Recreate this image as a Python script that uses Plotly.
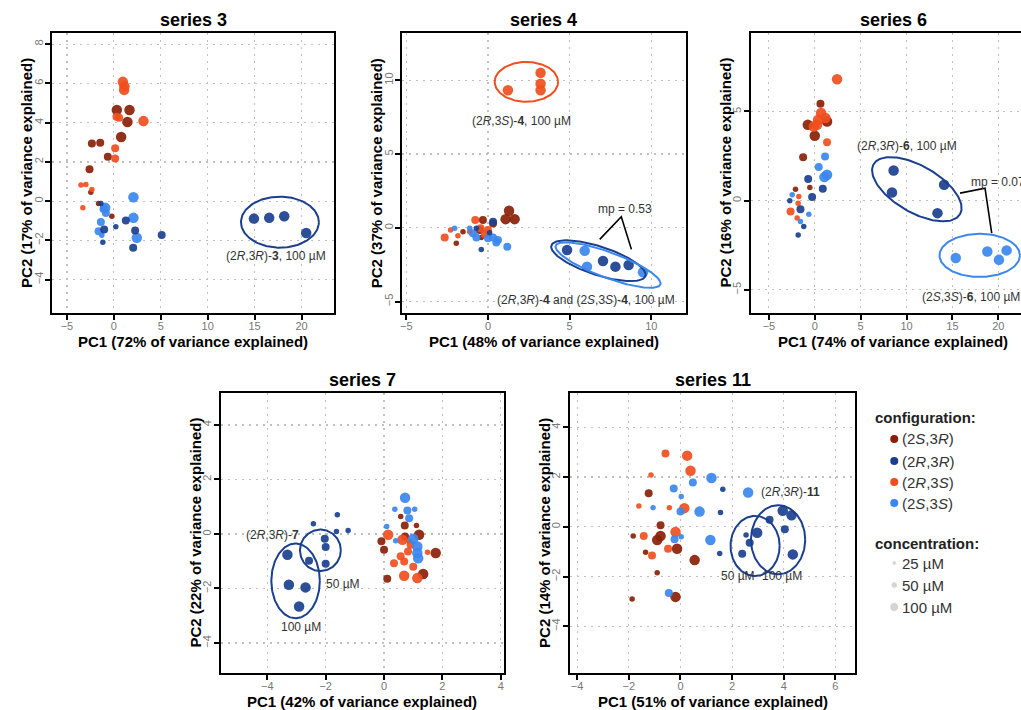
import numpy as np
import plotly.graph_objects as go

W, H = 1021, 710
FONT = "Liberation Sans, Arial, sans-serif"

# ---------------- data ----------------
CONFIGS = ["2S3R", "2R3S", "2S3S", "2R3R"]
CONFIG_LABELS = ["(2<i>S</i>,3<i>R</i>)", "(2<i>R</i>,3<i>R</i>)", "(2<i>R</i>,3<i>S</i>)", "(2<i>S</i>,3<i>S</i>)"]
LEGEND_ORDER = ["2S3R", "2R3R", "2R3S", "2S3S"]
CONC_LABELS = ["25 µM", "50 µM", "100 µM"]
CONC_VALUES = [25, 50, 100]

# series 3
s3_2S3R_x = [0.32, 1.67, 1.45, 0.78, -2.34, -1.45, -0.64, -2.59, -2.45, -1.63, -0.21]
s3_2S3R_y = [4.65, 4.65, 4.03, 3.27, 2.94, 2.98, 2.26, 1.62, 0.46, -0.12, -0.77]
s3_2S3R_c = [100, 100, 100, 100, 50, 50, 50, 50, 25, 25, 25]
s3_2R3S_x = [0.96, 1.13, 1.10, 0.28, 0.57, 3.16, 0.14, 0.14, -3.5, -2.98, -2.34, -3.3]
s3_2R3S_y = [6.08, 5.85, 5.67, 4.30, 4.25, 4.08, 2.69, 2.18, 0.82, 0.85, 0.60, -0.34]
s3_2R3S_c = [100, 100, 100, 50, 50, 100, 50, 50, 25, 25, 25, 25]
s3_2S3S_x = [2.09, 2.09, 2.45, -0.92, -1.10, -1.38, -1.63, -1.28, -0.85]
s3_2S3S_y = [0.20, -0.85, -1.87, -0.34, -0.40, -1.06, -1.53, -1.74, -0.60]
s3_2S3S_c = [100, 100, 100, 100, 50, 50, 50, 25, 50]
s3_2R3R_x = [14.93, 16.56, 18.16, 20.5, 1.28, 0.21, 2.27, -1.03, -1.17, 2.06, 5.1, -1.38]
s3_2R3R_y = [-0.89, -0.85, -0.77, -1.62, -0.99, -1.31, -1.5, -1.45, -2.09, -2.38, -1.72, -0.12]
s3_2R3R_c = [100, 100, 100, 100, 50, 25, 50, 50, 25, 50, 50, 25]

# series 4
s4_2S3R_x = [1.29, 1.08, 1.63, -0.31, -0.51, 0.31, -1.94, -1.53, -0.41]
s4_2S3R_y = [1.16, 0.59, 0.59, 0.53, -0.15, 0.30, -1.05, -0.26, -0.65]
s4_2S3R_c = [100, 100, 100, 50, 50, 50, 25, 25, 25]
s4_2R3S_x = [1.22, 3.22, 3.22, 3.22, -0.78, -2.65, -2.29, -1.84, -1.12, -0.45, -0.2, 0.0]
s4_2R3S_y = [9.32, 10.5, 9.77, 9.32, 0.53, -0.65, -0.15, -0.53, -0.26, -0.03, -0.42, -0.15]
s4_2R3S_c = [100, 100, 100, 100, 50, 50, 25, 25, 25, 50, 50, 50]
s4_2S3S_x = [5.92, 6.06, 9.49, -2.04, -0.92, -0.71, 0.31, 0.61, 0.51, 1.18, -1.12, 0.0]
s4_2S3S_y = [-1.55, -2.63, -3.01, -0.03, -0.37, -0.65, -0.65, -0.82, -1.0, -1.28, -0.03, -0.71]
s4_2S3S_c = [100, 100, 100, 25, 50, 50, 50, 50, 50, 50, 25, 50]
s4_2R3R_x = [4.84, 7.04, 7.8, 8.61, 0.31, -0.41, -0.71, 0.1]
s4_2R3R_y = [-1.5, -2.25, -2.63, -2.52, 0.41, -1.46, -0.03, -0.33]
s4_2R3R_c = [100, 100, 100, 100, 50, 25, 25, 25]

# series 6
s6_2S3R_x = [0.62, -0.76, 0.0, 1.34, -1.27, -2.1, -0.54]
s6_2S3R_y = [5.43, 4.25, 3.64, 4.44, 2.44, 0.64, 0.74]
s6_2S3R_c = [50, 100, 100, 100, 50, 25, 25]
s6_2R3S_x = [2.43, 0.69, 1.16, 0.36, -0.11, 0.25, 1.34, -2.64, -1.81, -1.92, -1.74]
s6_2R3S_y = [6.81, 4.91, 4.63, 4.53, 4.16, 4.25, 3.28, -0.61, -0.14, -0.98, 0.23]
s6_2R3S_c = [100, 100, 100, 100, 100, 100, 50, 50, 25, 25, 25]
s6_2S3S_x = [1.12, 0.43, 1.34, 1.05, -2.46, -1.56, -0.65, 15.36, 18.8, 20.9, 20.07]
s6_2S3S_y = [2.48, 1.88, 1.45, 1.32, 0.33, -1.17, -0.76, -3.22, -2.85, -2.79, -3.32]
s6_2S3S_c = [50, 50, 100, 100, 25, 25, 25, 100, 100, 100, 100]
s6_2R3R_x = [-0.72, 0.87, -0.29, -2.72, -1.56, -1.2, -1.81, 8.59, 8.41, 14.09, 13.37]
s6_2R3R_y = [1.22, 0.66, 0.2, 0.0, -0.48, -1.45, -1.92, 1.69, 0.46, 0.89, -0.7]
s6_2R3R_c = [50, 50, 50, 25, 50, 25, 25, 100, 100, 100, 100]

# series 7
s7_2S3R_x = [0.57, 1.11, 0.71, -0.09, 0.0, 1.2, 0.72, 1.77, 0.11, 1.34]
s7_2S3R_y = [0.64, 0.31, 0.31, -0.27, -0.58, -0.03, -0.09, -0.70, -1.64, -1.47]
s7_2S3R_c = [25, 25, 50, 50, 50, 100, 50, 100, 50, 100]
s7_2R3S_x = [0.14, 0.63, 0.91, 0.82, 0.57, 0.34, 0.69, 1.0, 0.69, 1.14, 1.49, 0.85]
s7_2R3S_y = [-0.03, -0.21, -0.4, -0.64, -0.82, -1.07, -1.01, -1.2, -1.53, -1.62, -0.67, -0.25]
s7_2R3S_c = [100, 100, 50, 50, 50, 50, 50, 50, 100, 100, 25, 25]
s7_2S3S_x = [0.72, 0.37, 0.8, 1.05, 0.86, 0.09, 0.4, 1.0, 1.14, 1.14, 1.17]
s7_2S3S_y = [1.33, 0.91, 0.86, 0.91, 0.58, 0.27, -0.25, -0.18, -0.46, -0.7, -0.89]
s7_2S3S_c = [100, 25, 50, 25, 50, 25, 25, 100, 100, 100, 100]
s7_2R3R_x = [-3.31, -3.26, -2.69, -2.91, -2.03, -2.0, -2.57, -2.0, -2.42, -1.6, -1.63, -1.23]
s7_2R3R_y = [-0.76, -1.86, -1.96, -2.66, -0.18, -0.48, -0.98, -1.09, 0.37, 0.70, 0.09, 0.13]
s7_2R3R_c = [100, 100, 100, 100, 50, 50, 50, 50, 25, 25, 25, 25]

# series 11
s11_2S3R_x = [-1.23, -0.77, -0.77, -0.9, -1.83, -1.35, -0.13, 0.55, -0.9, -1.87, -0.19]
s11_2S3R_y = [1.35, 0.06, -0.37, -0.53, -0.37, -1.02, -0.88, -1.34, -1.85, -2.9, -2.82]
s11_2S3R_c = [50, 50, 100, 100, 25, 25, 100, 100, 25, 25, 100]
s11_2R3S_x = [-0.58, 0.26, 0.39, -1.14, -1.61, -0.43, 0.15, -1.42, -0.19, -0.48, -1.1]
s11_2R3S_y = [2.95, 2.86, 2.25, 2.08, 0.84, 0.77, 0.75, -0.37, -0.21, -0.88, -1.15]
s11_2R3S_c = [50, 100, 100, 25, 25, 25, 100, 50, 100, 50, 50]
s11_2S3S_x = [-0.26, 0.03, 0.48, 1.2, -1.06, 0.0, 0.74, -0.23, 0.03, 1.16, -0.45, 2.62]
s11_2S3S_y = [1.54, 1.22, 1.78, 1.96, 0.77, 0.61, 0.61, -0.5, -0.4, -0.53, -2.66, 1.38]
s11_2S3S_c = [50, 25, 50, 100, 25, 50, 100, 50, 25, 100, 50, 100]
s11_2R3R_x = [1.64, 1.55, 1.52, 2.54, 2.68, 2.39, 2.97, 3.45, 3.96, 4.3, 4.04, 4.35]
s11_2R3R_y = [1.51, 0.57, -1.07, -0.33, -0.64, -1.08, -0.24, 0.28, 0.64, 0.46, -0.1, -1.11]
s11_2R3R_c = [25, 25, 25, 25, 50, 50, 100, 50, 100, 100, 50, 100]

DATA = {
    "s3": {"2S3R": (s3_2S3R_x, s3_2S3R_y, s3_2S3R_c), "2R3S": (s3_2R3S_x, s3_2R3S_y, s3_2R3S_c),
           "2S3S": (s3_2S3S_x, s3_2S3S_y, s3_2S3S_c), "2R3R": (s3_2R3R_x, s3_2R3R_y, s3_2R3R_c)},
    "s4": {"2S3R": (s4_2S3R_x, s4_2S3R_y, s4_2S3R_c), "2R3S": (s4_2R3S_x, s4_2R3S_y, s4_2R3S_c),
           "2S3S": (s4_2S3S_x, s4_2S3S_y, s4_2S3S_c), "2R3R": (s4_2R3R_x, s4_2R3R_y, s4_2R3R_c)},
    "s6": {"2S3R": (s6_2S3R_x, s6_2S3R_y, s6_2S3R_c), "2R3S": (s6_2R3S_x, s6_2R3S_y, s6_2R3S_c),
           "2S3S": (s6_2S3S_x, s6_2S3S_y, s6_2S3S_c), "2R3R": (s6_2R3R_x, s6_2R3R_y, s6_2R3R_c)},
    "s7": {"2S3R": (s7_2S3R_x, s7_2S3R_y, s7_2S3R_c), "2R3S": (s7_2R3S_x, s7_2R3S_y, s7_2R3S_c),
           "2S3S": (s7_2S3S_x, s7_2S3S_y, s7_2S3S_c), "2R3R": (s7_2R3R_x, s7_2R3R_y, s7_2R3R_c)},
    "s11": {"2S3R": (s11_2S3R_x, s11_2S3R_y, s11_2S3R_c), "2R3S": (s11_2R3S_x, s11_2R3S_y, s11_2R3S_c),
            "2S3S": (s11_2S3S_x, s11_2S3S_y, s11_2S3S_c), "2R3R": (s11_2R3R_x, s11_2R3R_y, s11_2R3R_c)},
}

# ---------------- styles / layout ----------------
COLORS = {"2S3R": "#8a1f08", "2R3R": "#1b3f8f", "2R3S": "#f04e1e", "2S3S": "#3b87ee"}
SIZES = {25: 5.5, 50: 8, 100: 10.5}
LEG_SIZES = {25: 4.5, 50: 6.5, 100: 9}

# box = plot frame in pixels (left, right, top, bottom); cx = centre used for the titles
PANELS = [
    dict(key="s3", title="series 3", xlab="PC1 (72% of variance explained)", ylab="PC2 (17% of variance explained)",
         box=(50, 333, 33, 313), cx=191.5, xr=[-6.6, 23.5], yr=[-5.7, 8.57], xd=5, yd=2, ymirror=True),
    dict(key="s4", title="series 4", xlab="PC1 (48% of variance explained)", ylab="PC2 (37% of variance explained)",
         box=(401, 685, 33, 313), cx=543, xr=[-5.25, 12.1], yr=[-5.77, 13.2], xd=5, yd=5, ymirror=True),
    dict(key="s6", title="series 6", xlab="PC1 (74% of variance explained)", ylab="PC2 (16% of variance explained)",
         box=(750, 1021, 33, 313), cx=893, xr=[-7.0, 22.47], yr=[-6.3, 9.4], xd=5, yd=5, ymirror=False),
    dict(key="s7", title="series 7", xlab="PC1 (42% of variance explained)", ylab="PC2 (22% of variance explained)",
         box=(219, 503, 393, 673), cx=361, xr=[-5.6, 4.11], yr=[-5.1, 5.17], xd=2, yd=2, ymirror=True),
    dict(key="s11", title="series 11", xlab="PC1 (51% of variance explained)", ylab="PC2 (14% of variance explained)",
         box=(569, 855, 393, 673), cx=712, xr=[-4.28, 6.77], yr=[-5.88, 5.38], xd=2, yd=2, ymirror=True),
]

# ellipses: panel, config colour, centre, conjugate semi-axes
ELLIPSES = [
    ("s3", "2R3R", (17.7, -1.07), (4.15, 0.0), (0.0, 1.30)),
    ("s4", "2R3S", (2.35, 9.89), (1.94, 0.0), (0.0, 1.35)),
    ("s4", "2R3R", (6.76, -2.23), (2.88, -0.85), (-0.26, 1.09)),
    ("s4", "2S3S", (7.35, -2.52), (3.2, -1.15), (-0.30, 1.03)),
    ("s6", "2R3R", (11.12, 0.64), (4.71, -1.40), (-1.27, -1.13)),
    ("s6", "2S3S", (17.97, -3.07), (4.38, 0.0), (0.0, 1.21)),
    ("s7", "2R3R", (-3.03, -1.72), (0.83, 0.0), (0.0, 1.37)),
    ("s7", "2R3R", (-2.18, -0.60), (0.70, 0.0), (0.0, 0.76)),
    ("s11", "2R3R", (2.89, -0.77), (0.95, 0.0), (0.0, 1.21)),
    ("s11", "2R3R", (3.78, -0.52), (1.05, 0.0), (0.0, 1.39)),
]

CONNECTORS = [
    ("s4", [6.84, 8.16, 8.78], [-0.78, 0.75, -1.46]),
    ("s6", [15.83, 18.55, 19.28], [0.42, 0.70, -1.82]),
]

LABELS = [
    ("s3", 17.3, -2.81, "(2<i>R</i>,3<i>R</i>)-<b>3</b>, 100 µM", "center"),
    ("s4", 2.04, 7.25, "(2<i>R</i>,3<i>S</i>)-<b>4</b>, 100 µM", "center"),
    ("s4", 8.37, 1.31, "mp = 0.53", "center"),
    ("s4", 6.02, -4.9, "(2<i>R</i>,3<i>R</i>)-<b>4</b> and (2<i>S</i>,3<i>S</i>)-<b>4</b>, 100 µM", "center"),
    ("s6", 10.04, 3.09, "(2<i>R</i>,3<i>R</i>)-<b>6</b>, 100 µM", "center"),
    ("s6", 16.85, 1.07, "mp = 0.07", "left"),
    ("s6", 11.49, -5.43, "(2<i>S</i>,3<i>S</i>)-<b>6</b>, 100 µM", "left"),
    ("s7", -3.83, -0.05, "(2<i>R</i>,3<i>R</i>)-<b>7</b>", "center"),
    ("s7", -1.39, -1.84, "50 µM", "center"),
    ("s7", -2.86, -3.43, "100 µM", "center"),
    ("s11", 3.06, 1.40, "(2<i>R</i>,3<i>R</i>)-<b>11</b>", "left"),
    ("s11", 2.23, -1.98, "50 µM", "center"),
    ("s11", 3.94, -1.98, "100 µM", "center"),
]


def px(x):
    return x / W


def py(y):
    return 1 - y / H


fig = go.Figure()
annotations = []
layout = dict(width=W, height=H, margin=dict(l=0, r=0, t=0, b=0), paper_bgcolor="white",
              plot_bgcolor="white", showlegend=False, font=dict(family=FONT, color="#333"))

panel_idx = {}
for i, p in enumerate(PANELS, start=1):
    panel_idx[p["key"]] = i
    x0, x1, y0, y1 = p["box"]
    common = dict(showline=True, linecolor="black", linewidth=2, ticks="outside", ticklen=5,
                  tickwidth=2, tickcolor="black", tickfont=dict(size=11, color="#777", family=FONT),
                  showgrid=True, gridcolor="#c0c0c0", griddash="2px,5px", gridwidth=1.2, zeroline=False,
                  tick0=0, fixedrange=True)
    layout[f"xaxis{i}"] = dict(common, domain=[px(x0), px(x1)], range=p["xr"], dtick=p["xd"],
                               anchor=f"y{i}", mirror=True, ticklabelstandoff=-3)
    layout[f"yaxis{i}"] = dict(common, domain=[py(y1), py(y0)], range=p["yr"], dtick=p["yd"],
                               anchor=f"x{i}", mirror=p["ymirror"], tickangle=-90, ticklabelstandoff=-2)
    cx = p["cx"]
    annotations.append(dict(x=px(cx), y=py(y0 - 13), xref="paper", yref="paper", text=f"<b>{p['title']}</b>",
                            showarrow=False, font=dict(size=18, color="black", family=FONT),
                            xanchor="center", yanchor="middle"))
    annotations.append(dict(x=px(cx), y=py(y1 + 28), xref="paper", yref="paper", text=f"<b>{p['xlab']}</b>",
                            showarrow=False, font=dict(size=15, color="black", family=FONT),
                            xanchor="center", yanchor="middle", borderpad=0))
    annotations.append(dict(x=px(x0 - 26), y=py((y0 + y1) / 2), xref="paper", yref="paper",
                            text=f"<b>{p['ylab']}</b>", textangle=-90,
                            showarrow=False, font=dict(size=15, color="black", family=FONT),
                            xanchor="center", yanchor="middle", borderpad=0))
    for cfg in CONFIGS:
        xs, ys, cs = DATA[p["key"]][cfg]
        fig.add_trace(go.Scatter(x=xs, y=ys, mode="markers", xaxis=f"x{i}", yaxis=f"y{i}",
                                 marker=dict(color=COLORS[cfg], size=[SIZES[c] for c in cs],
                                             opacity=0.92, line=dict(width=0)),
                                 hoverinfo="skip"))

t = np.linspace(0, 2 * np.pi, 160)
for key, cfg, (cx, cy), (ux, uy), (vx, vy) in ELLIPSES:
    i = panel_idx[key]
    fig.add_trace(go.Scatter(x=cx + ux * np.cos(t) + vx * np.sin(t), y=cy + uy * np.cos(t) + vy * np.sin(t),
                             mode="lines", line=dict(color=COLORS[cfg], width=2),
                             xaxis=f"x{i}", yaxis=f"y{i}", hoverinfo="skip"))

for key, xs, ys in CONNECTORS:
    i = panel_idx[key]
    fig.add_trace(go.Scatter(x=xs, y=ys, mode="lines", line=dict(color="black", width=1.6),
                             xaxis=f"x{i}", yaxis=f"y{i}", hoverinfo="skip"))

for key, x, y, text, anchor in LABELS:
    i = panel_idx[key]
    annotations.append(dict(x=x, y=y, xref=f"x{i}", yref=f"y{i}", text=text, showarrow=False,
                            xanchor=anchor, yanchor="middle", font=dict(size=12, color="#333", family=FONT)))

# ---------------- legend (hidden axes in pixel units) ----------------
LX0, LX1, LY0, LY1 = 860, 1021, 400, 620
layout["xaxis6"] = dict(domain=[px(LX0), px(LX1)], range=[LX0, LX1], visible=False, fixedrange=True, anchor="y6")
layout["yaxis6"] = dict(domain=[py(LY1), py(LY0)], range=[LY1, LY0], visible=False, fixedrange=True, anchor="x6")

leg_rows_cfg = [439, 461, 482, 503]
leg_rows_conc = [563, 585, 607]
fig.add_trace(go.Scatter(x=[894] * 4, y=leg_rows_cfg, mode="markers", xaxis="x6", yaxis="y6",
                         marker=dict(color=[COLORS[c] for c in LEGEND_ORDER], size=8), hoverinfo="skip"))
fig.add_trace(go.Scatter(x=[894] * 3, y=leg_rows_conc, mode="markers", xaxis="x6", yaxis="y6",
                         marker=dict(color="#c2c2c2", size=[LEG_SIZES[c] for c in CONC_VALUES]),
                         hoverinfo="skip"))
annotations.append(dict(x=px(873), y=py(417), xref="paper", yref="paper", text="<b>configuration:</b>",
                        showarrow=False, xanchor="left", yanchor="middle",
                        font=dict(size=15, color="#222", family=FONT)))
annotations.append(dict(x=px(873), y=py(543), xref="paper", yref="paper", text="<b>concentration:</b>",
                        showarrow=False, xanchor="left", yanchor="middle",
                        font=dict(size=15, color="#222", family=FONT)))
for lab, yy in zip(CONFIG_LABELS, leg_rows_cfg):
    annotations.append(dict(x=px(900), y=py(yy), xref="paper", yref="paper", text=lab, showarrow=False,
                            xanchor="left", yanchor="middle", font=dict(size=15, color="#333", family=FONT)))
for lab, yy in zip(CONC_LABELS, leg_rows_conc):
    annotations.append(dict(x=px(900), y=py(yy), xref="paper", yref="paper", text=lab, showarrow=False,
                            xanchor="left", yanchor="middle", font=dict(size=15, color="#333", family=FONT)))

layout["annotations"] = annotations
fig.update_layout(**layout)
fig.write_html("out.html", config={"displayModeBar": False, "staticPlot": True},
               post_script="document.body.style.margin='0px';document.body.style.overflow='hidden';")
